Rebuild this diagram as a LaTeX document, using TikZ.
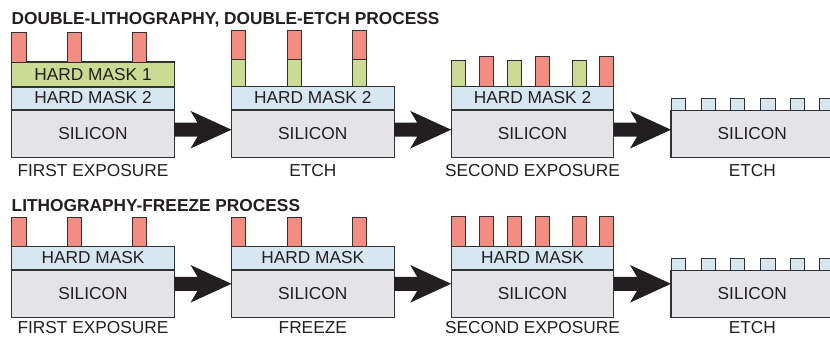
\documentclass[tikz,border=0pt]{standalone}
\usepackage{fontspec}
\setmainfont{Liberation Sans}
\usetikzlibrary{calc}
\definecolor{resist}{RGB}{241,141,129}
\definecolor{hmone}{RGB}{203,219,147}
\definecolor{hmtwo}{RGB}{214,231,242}
\definecolor{silic}{RGB}{227,227,232}
\definecolor{ink}{RGB}{35,31,32}
\definecolor{edge}{RGB}{50,50,52}
\newcommand{\fatarrow}[3]{%
  \path ($(#1.north east)+(0,#3)$) coordinate (#1-as);
  \path (#1-as -| #2.west) coordinate (#1-at);
  \fill[arrowfill] ($(#1-as)+(0,-7)$) -- ($(#1-at)+(-34,-7)$) -- ($(#1-at)+(-41,-18.8)$)
    -- (#1-at) -- ($(#1-at)+(-41,18.8)$) -- ($(#1-at)+(-34,7)$) -- ($(#1-as)+(0,7)$) -- cycle;}
\begin{document}
\begin{tikzpicture}[x=1pt,y=-1pt,
  font=\fontsize{17.3}{20}\selectfont,
  layer/.style={draw=edge, line width=1.1pt, rectangle, inner sep=0pt, outer sep=0pt,
    anchor=north west, minimum width=162.6pt, text=ink, text height=12.4pt, text depth=2pt},
  sil/.style={layer, fill=silic, minimum height=47.6pt},
  hmb/.style={layer, fill=hmtwo, minimum height=23.3pt, text depth=3pt},
  hmg/.style={layer, fill=hmone, minimum height=25pt, text depth=0.5pt},
  pillar/.style={draw=edge, line width=0.8pt, rectangle, inner sep=0pt, outer sep=0pt,
    minimum width=14.2pt, anchor=south west},
  respill/.style={pillar, fill=resist, minimum height=29.3pt},
  grnpill/.style={pillar, fill=hmone, minimum height=27pt},
  stub/.style={pillar, fill=hmtwo, minimum width=14.5pt, minimum height=12.3pt},
  caption/.style={text=ink, anchor=base, inner sep=0pt},
  title/.style={text=ink, anchor=base west, inner sep=0pt, font=\fontsize{17.3}{20}\selectfont\bfseries},
  arrowfill/.style={fill=ink}
]
\useasboundingbox (0,0) rectangle (830,337);

% ---------- titles ----------
\node[title] (t1) at (11.5,25) {DOUBLE-LITHOGRAPHY, DOUBLE-ETCH PROCESS};
\node[title] (t2) at (11.5,211) {LITHOGRAPHY-FREEZE PROCESS};

% ---------- top row, panel 1 ----------
\node[hmg] (a1h1) at (11.7,62) {HARD MASK 1};
\node[hmb] (a1h2) at (11.7,87) {HARD MASK 2};
\node[sil] (a1s) at (11.7,110) {SILICON};
\foreach \o [count=\i] in {0,55.7,120.7}
  \node[respill] (a1r\i) at (11.7+\o,62) {};
\node[caption] (a1c) at (93,176) {FIRST EXPOSURE};

% ---------- top row, panel 2 ----------
\node[hmb] (a2h2) at (231.5,86.7) {HARD MASK 2};
\node[sil] (a2s) at (231.5,110) {SILICON};
\foreach \o [count=\i] in {0,55.7,120.7}{
  \node[grnpill, minimum height=27.4pt] (a2g\i) at (231.5+\o,86.7) {};
  \node[respill] (a2r\i) at (231.5+\o,59.3) {};
}
\node[caption] (a2c) at (312.8,176) {ETCH};

% ---------- top row, panel 3 ----------
\node[hmb] (a3h2) at (451.2,86.7) {HARD MASK 2};
\node[sil] (a3s) at (451.2,110) {SILICON};
\foreach \o [count=\i] in {0,56,121}
  \node[grnpill, minimum height=26.7pt] (a3g\i) at (451.2+\o,86.7) {};
\foreach \o [count=\i] in {28.3,84,148.4}
  \node[respill, minimum height=30pt] (a3r\i) at (451.2+\o,86.7) {};
\node[caption] (a3c) at (532.5,176) {SECOND EXPOSURE};

% ---------- top row, panel 4 ----------
\node[sil, minimum height=47pt] (a4s) at (671,110.7) {SILICON};
\foreach \o [count=\i] in {0,30,59.3,89.5,119,148.3}
  \node[stub] (a4q\i) at (671+\o,110.7) {};
\node[caption] (a4c) at (752.3,176) {ETCH};

% ---------- bottom row, panel 1 ----------
\node[hmb] (b1h) at (11.7,246.7) {HARD MASK};
\node[sil] (b1s) at (11.7,270) {SILICON};
\foreach \o [count=\i] in {0,55.7,120.7}
  \node[respill, minimum height=29.4pt] (b1r\i) at (11.7+\o,246.7) {};
\node[caption] (b1c) at (93,333) {FIRST EXPOSURE};

% ---------- bottom row, panel 2 ----------
\node[hmb] (b2h) at (231.5,246.7) {HARD MASK};
\node[sil] (b2s) at (231.5,270) {SILICON};
\foreach \o [count=\i] in {0,55.7,120.7}
  \node[respill, minimum height=29.4pt] (b2r\i) at (231.5+\o,246.7) {};
\node[caption] (b2c) at (312.8,333) {FREEZE};

% ---------- bottom row, panel 3 ----------
\node[hmb] (b3h) at (451.2,246.7) {HARD MASK};
\node[sil] (b3s) at (451.2,270) {SILICON};
\foreach \o [count=\i] in {0,28.3,56,84,121,148.4}
  \node[respill, minimum height=30pt] (b3r\i) at (451.2+\o,246.7) {};
\node[caption] (b3c) at (532.5,333) {SECOND EXPOSURE};

% ---------- bottom row, panel 4 ----------
\node[sil, minimum height=47pt] (b4s) at (671,270.7) {SILICON};
\foreach \o [count=\i] in {0,30,59.3,89.5,119,148.3}
  \node[stub] (b4q\i) at (671+\o,270.7) {};
\node[caption] (b4c) at (752.3,333) {ETCH};

% ---------- arrows ----------
\fatarrow{a1s}{a2s}{19.7}
\fatarrow{a2s}{a3s}{19.7}
\fatarrow{a3s}{a4s}{19.7}
\fatarrow{b1s}{b2s}{13.8}
\fatarrow{b2s}{b3s}{13.8}
\fatarrow{b3s}{b4s}{13.8}
\end{tikzpicture}
\end{document}
